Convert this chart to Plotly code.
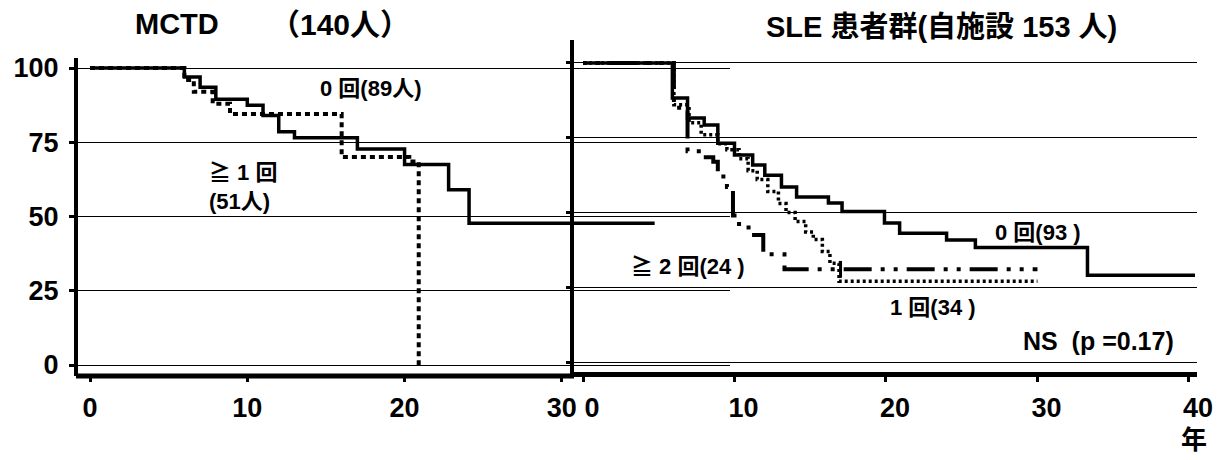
import plotly.graph_objects as go

# ---------------- data ----------------
# Left panel: MCTD (140人)
mctd_zero_years = [0, 6.0, 7.0, 8.0, 10.0, 11.0, 12.0, 13.0, 17.0, 20.0, 22.8, 24.1, 35.9]
mctd_zero_surv = [100, 97, 93.5, 89.5, 87.5, 84, 78.5, 76.5, 72.7, 67.5, 59, 47.7, 47.7]
mctd_one_years = [0, 6.0, 6.6, 7.8, 8.9, 16.0, 20.3, 20.9]
mctd_one_surv = [100, 96, 92, 88, 84.5, 70, 68.5, 0]

# Right panel: SLE 患者群 (自施設 153 人)
sle_zero_years = [0, 5.9, 6.9, 8.0, 8.9, 10.0, 11.2, 12.0, 13.1, 14.1, 16.2, 17.1,
                  19.9, 20.9, 24.0, 25.9, 33.3, 40.4]
sle_zero_surv = [100, 88.3, 81.6, 79.3, 73.2, 69.2, 65.9, 62.5, 58.5, 55.2, 53.2, 50.3,
                 46.5, 43.1, 40.8, 38.3, 29, 29]
sle_one_years = [0, 6.0, 7.0, 7.8, 8.9, 9.5, 10.3, 10.9, 11.5, 12.2, 12.9, 13.4, 14.0,
                 14.7, 15.2, 15.8, 16.3, 16.9, 30.0]
sle_one_surv = [100, 86, 80, 76, 73, 71, 68, 64, 61, 57, 53, 50, 47, 43.5, 41, 37, 33, 27, 27]
sle_two_years = [0, 6.0, 6.9, 7.9, 8.6, 8.9, 9.5, 9.9, 10.3, 11.1, 11.9, 13.3, 30.0]
sle_two_surv = [100, 85, 70.5, 68.5, 67, 62, 58.5, 49, 45, 42.5, 36, 31, 31]
sle_two_censor_year = [17.0]
sle_two_censor_surv = [31]

left_xticks = [0, 10, 20, 30]
right_xticks = [0, 10, 20, 30, 40]
yticks = [0, 25, 50, 75, 100]

# ---------------- figure ----------------
W, H = 1227, 460
BLACK = "#000000"
NUM_FONT = "Liberation Sans Narrow, Arial Narrow, Liberation Sans, Noto Sans CJK JP"
TXT_FONT = "Liberation Sans, Arial, Noto Sans CJK JP"


def px(x):
    return x / W


def py(y):
    return 1 - y / H


fig = go.Figure()

# left panel
fig.add_trace(go.Scatter(x=mctd_zero_years, y=mctd_zero_surv, mode="lines",
                         line=dict(shape="hv", color=BLACK, width=3.5),
                         xaxis="x", yaxis="y", showlegend=False))
fig.add_trace(go.Scatter(x=mctd_one_years, y=mctd_one_surv, mode="lines",
                         line=dict(shape="hv", color=BLACK, width=4, dash="5px,4px"),
                         xaxis="x", yaxis="y", showlegend=False))

# right panel
fig.add_trace(go.Scatter(x=sle_one_years, y=sle_one_surv, mode="lines",
                         line=dict(shape="hv", color=BLACK, width=3.5, dash="3px,3px"),
                         xaxis="x2", yaxis="y2", showlegend=False))
fig.add_trace(go.Scatter(x=sle_two_years, y=sle_two_surv, mode="lines",
                         line=dict(shape="hv", color=BLACK, width=4,
                                   dash="4px,9px,4px,9px,28px,9px"),
                         xaxis="x2", yaxis="y2", showlegend=False))
fig.add_trace(go.Scatter(x=sle_two_censor_year, y=sle_two_censor_surv, mode="markers",
                         marker=dict(symbol="line-ns", size=12,
                                     line=dict(color=BLACK, width=3)),
                         xaxis="x2", yaxis="y2", showlegend=False))
fig.add_trace(go.Scatter(x=sle_zero_years, y=sle_zero_surv, mode="lines",
                         line=dict(shape="hv", color=BLACK, width=3.5),
                         xaxis="x2", yaxis="y2", showlegend=False))

tickfont = dict(family=NUM_FONT, size=27, color=BLACK, weight="bold")

common_x = dict(showgrid=False, zeroline=False, linecolor=BLACK, automargin=False,
                linewidth=5, ticks="outside", ticklen=5, tickwidth=3, tickcolor=BLACK,
                tickfont=tickfont, ticklabelstandoff=3)
common_y = dict(showgrid=True, gridcolor=BLACK, gridwidth=1.3, zeroline=False,
                automargin=False, linecolor=BLACK, linewidth=4, ticks="outside",
                ticklen=5, tickwidth=3, tickcolor=BLACK, tickvals=yticks)

fig.update_layout(
    width=W, height=H,
    margin=dict(l=0, r=0, t=0, b=0, pad=0),
    paper_bgcolor="white", plot_bgcolor="rgba(0,0,0,0)",
    xaxis=dict(domain=[px(78), px(730)], range=[-0.763, 40.69], anchor="y",
               showline=False, tickvals=left_xticks, **common_x),
    xaxis2=dict(domain=[px(572), px(1197)], range=[-0.726, 40.53], anchor="y2",
                showline=True, tickvals=right_xticks, ticklabelshift=9, **common_x),
    yaxis=dict(domain=[py(376), py(58)], range=[-3.70, 103.37], anchor="x",
               showline=True, showticklabels=True, tickfont=tickfont,
               ticklabelstandoff=5, **common_y),
    yaxis2=dict(domain=[py(372), py(40)], range=[-3.34, 107.69], anchor="x2",
                showline=False, showticklabels=False, **common_y),
)

# bottom axis line of the left panel (stops at the divider)
fig.add_shape(type="line", xref="paper", yref="paper",
              x0=px(76), x1=px(574), y0=py(376), y1=py(376),
              line=dict(color=BLACK, width=5))
# divider between the two panels (y axis of the right panel)
fig.add_shape(type="line", xref="paper", yref="paper",
              x0=px(572), x1=px(572), y0=py(40), y1=py(376),
              line=dict(color=BLACK, width=4))

annos = [
    ("MCTD", 133, 24, 29, "left", TXT_FONT),
    ("（140人）", 340, 24, 30, "center", TXT_FONT),
    ("SLE 患者群(自施設 153 人)", 941, 27, 29, "center", TXT_FONT),
    ("0 回(89人)", 370, 88, 22, "center", NUM_FONT),
    ("≧ 1 回", 207, 172, 22, "left", NUM_FONT),
    ("(51人)", 207, 201, 22, "left", NUM_FONT),
    ("0 回(93 )", 1038, 233, 22, "center", NUM_FONT),
    ("≧ 2 回(24 )", 688, 266, 22, "center", NUM_FONT),
    ("1 回(34 )", 933, 307, 22, "center", NUM_FONT),
    ("NS  (p =0.17)", 1098, 341, 25, "center", NUM_FONT),
    ("年", 1194, 440, 26, "center", TXT_FONT),
]
for text, x, y, size, anchor, fam in annos:
    fig.add_annotation(text=text, x=px(x), y=py(y), xref="paper", yref="paper",
                       xanchor=anchor, yanchor="middle", showarrow=False,
                       font=dict(family=fam, size=size, color=BLACK, weight="bold"))

fig.write_html("out.html")
